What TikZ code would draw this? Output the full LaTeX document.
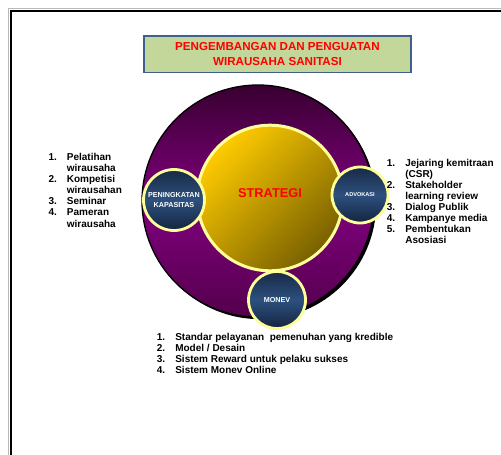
\documentclass[tikz,border=0pt]{standalone}
\usepackage{fontspec}
\setmainfont{Liberation Sans}
\usetikzlibrary{positioning}
%
\definecolor{boxgreen}{RGB}{196,215,155}
\definecolor{boxblue}{RGB}{63,95,143}
\definecolor{rimyellow}{RGB}{255,255,153}
\definecolor{plumdark}{RGB}{56,0,48}
\definecolor{plum}{RGB}{128,0,126}
\definecolor{plumlow}{RGB}{84,0,76}
\definecolor{goldlight}{RGB}{255,204,0}
\definecolor{golddark}{RGB}{120,96,0}
\definecolor{navytop}{RGB}{24,42,70}
\definecolor{navymid}{RGB}{45,80,126}
\definecolor{navylow}{RGB}{20,36,62}
%
\newcommand{\listfont}{\fontsize{10}{11.05}\selectfont\bfseries}
\tikzset{
  hub/.style={circle, draw=rimyellow, line width=2.8pt, inner sep=0pt,
    top color=navytop, bottom color=navylow, middle color=navymid,
    text=white, align=center},
  items/.style={inner sep=0pt, anchor=base west, font=\listfont},
}
\begin{document}
\begin{tikzpicture}[x=1pt,y=-1pt]
      \useasboundingbox (0,0) rectangle (501,455);
%
      % page frame
      \draw[gray!55, line width=0.8pt] (8.6,455) -- (8.6,8.6) -- (501,8.6);
      \draw[line width=2pt] (10.5,455) -- (10.5,10.5) -- (501,10.5);
%
      \node[draw=boxblue, line width=1.8pt, fill=boxgreen, minimum width=266.5pt,
        minimum height=36.5pt, text=red, align=center,
        font=\fontsize{11.6}{15.6}\selectfont\bfseries] (title) at (277.5,54.2)
        {PENGEMBANGAN DAN PENGUATAN\\WIRAUSAHA SANITASI};
%
      \coordinate (O) at (258,201);%%
      \coordinate (C) at (270,198);%%
%
      % outer ring with its shadow
      \fill (O) ++(2.2,2.2) circle (116pt);
      \shade[top color=plumdark, bottom color=plumlow, middle color=plum] (O) circle (116pt);
      \draw[line width=1.3pt] (O) circle (116pt);
%
      \node[circle, minimum size=145.6pt, draw=rimyellow, line width=3pt,
        top color=goldlight, bottom color=golddark, shading angle=45] (core) at (C) {};
      \node[text=red, font=\fontsize{12.8}{14}\selectfont\bfseries] (strat)
        at ([yshift=4.5pt]core.center) {STRATEGI};
%
      \node[hub, minimum size=61pt, font=\fontsize{7.2}{9.6}\selectfont\bfseries] (kap) at (174,200) {PENINGKATAN\\KAPASITAS};
      \node[hub, minimum size=56pt, font=\fontsize{5.6}{7}\selectfont\bfseries] (adv) at (360,195) {ADVOKASI};
      \node[hub, minimum size=57pt, font=\fontsize{7.2}{9}\selectfont\bfseries] (monev) at (277,300) {MONEV};
%
      \node[items] (kaplist) at (48.3,160.7) {\begin{tabular}[t]{@{}p{18.4pt}@{}l@{}}
        1. & Pelatihan\\ & wirausaha\\
        2. & Kompetisi\\ & wirausahan\\
        3. & Seminar\\
        4. & Pameran\\ & wirausaha
      \end{tabular}};
      \node[items] (advlist) at (386.7,166.3) {\begin{tabular}[t]{@{}p{18.4pt}@{}l@{}}
        1. & Jejaring kemitraan\\ & (CSR)\\
        2. & Stakeholder\\ & learning review\\
        3. & Dialog Publik\\
        4. & Kampanye media\\
        5. & Pembentukan\\ & Asosiasi
      \end{tabular}};
      \node[items] (monevlist) at (156.7,340) {\begin{tabular}[t]{@{}p{18.4pt}@{}l@{}}
        1. & Standar pelayanan\ \ pemenuhan yang kredible\\
        2. & Model / Desain\\
        3. & Sistem Reward untuk pelaku sukses\\
        4. & Sistem Monev Online
      \end{tabular}};
   \end{tikzpicture}
\end{document}
